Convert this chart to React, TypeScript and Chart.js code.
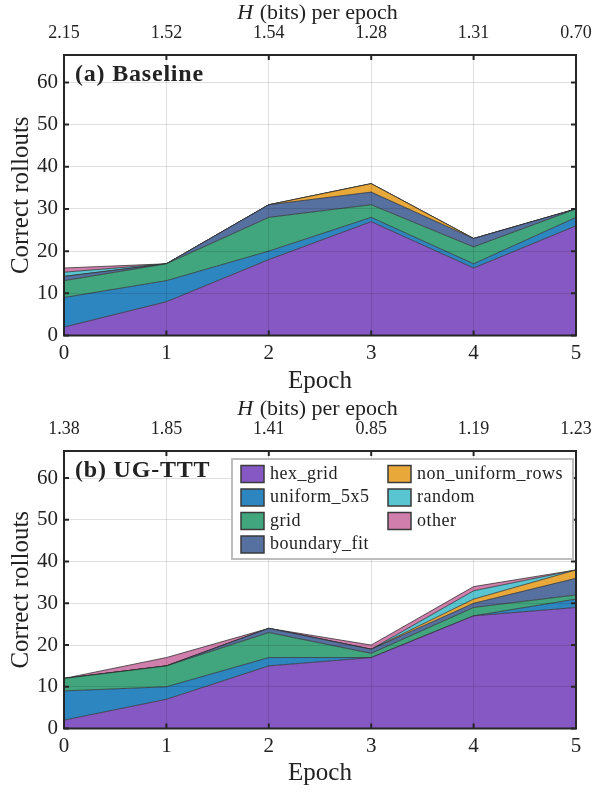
import React, { useEffect, useRef } from 'react';
import { Chart, registerables } from 'chart.js';

Chart.register(...registerables);

const EPOCHS = ['0', '1', '2', '3', '4', '5'];
const SERIES = ['hex_grid', 'uniform_5x5', 'grid', 'boundary_fit', 'non_uniform_rows', 'random', 'other'];
const COLORS = ['#8658c3', '#2e86c1', '#41a67e', '#5670a0', '#e9a83a', '#59c5d0', '#d07eab'];

// (a) Baseline
const BASE_HEX = [2, 8, 18, 27, 16, 26];
const BASE_UNI = [7, 5, 2, 1, 1, 2];
const BASE_GRID = [4, 4, 8, 3, 4, 2];
const BASE_BFIT = [1, 0, 3, 3, 2, 0];
const BASE_NUR = [0, 0, 0, 2, 0, 0];
const BASE_RAND = [1, 0, 0, 0, 0, 0];
const BASE_OTHER = [1, 0, 0, 0, 0, 0];
const BASE_H = ['2.15', '1.52', '1.54', '1.28', '1.31', '0.70'];

// (b) UG-TTT
const UG_HEX = [2, 7, 15, 17, 27, 29];
const UG_UNI = [7, 3, 2, 0, 0, 2];
const UG_GRID = [3, 5, 6, 1, 2, 1];
const UG_BFIT = [0, 0, 1, 1, 1, 4];
const UG_NUR = [0, 0, 0, 0, 1, 2];
const UG_RAND = [0, 0, 0, 0, 2, 0];
const UG_OTHER = [0, 2, 0, 1, 1, 0];
const UG_H = ['1.38', '1.85', '1.41', '0.85', '1.19', '1.23'];

const Y_MAX = 66.5;
const Y_STEP = 10;
const FONT = '"Liberation Serif", "Times New Roman", serif';
const TEXT = '#222';

const framePlugin = {
  id: 'frameDeco',
  afterDraw(chart: any, _args: any, opts: any) {
    const { ctx, chartArea: a, scales } = chart;
    ctx.save();
    // inward ticks
    ctx.strokeStyle = '#262626';
    ctx.lineWidth = 2;
    const tl = 5;
    ctx.beginPath();
    scales.y.ticks.forEach((t: any) => {
      const y = scales.y.getPixelForValue(t.value);
      ctx.moveTo(a.left, y); ctx.lineTo(a.left + tl, y);
      ctx.moveTo(a.right, y); ctx.lineTo(a.right - tl, y);
    });
    scales.x.ticks.forEach((_t: any, i: number) => {
      const x = scales.x.getPixelForTick(i);
      ctx.moveTo(x, a.bottom); ctx.lineTo(x, a.bottom - tl);
      ctx.moveTo(x, a.top); ctx.lineTo(x, a.top + tl);
    });
    ctx.stroke();
    ctx.strokeRect(a.left, a.top, a.right - a.left, a.bottom - a.top);

    // top axis title: "H (bits) per epoch" with italic H
    const cx = (a.left + a.right) / 2;
    ctx.fillStyle = TEXT;
    ctx.textBaseline = 'middle';
    ctx.textAlign = 'left';
    const f1 = `italic 22px ${FONT}`;
    const f2 = `22px ${FONT}`;
    const s1 = 'H';
    const s2 = ' (bits) per epoch';
    ctx.font = f1; const w1 = ctx.measureText(s1).width;
    ctx.font = f2; const w2 = ctx.measureText(s2).width;
    const x0 = cx - (w1 + w2) / 2 - 3;
    ctx.font = f1; ctx.fillText(s1, x0, 13);
    ctx.font = f2; ctx.fillText(s2, x0 + w1 + 1, 13);

    // panel label
    ctx.font = `bold 24px ${FONT}`;
    try { (ctx as any).letterSpacing = '0.8px'; } catch (e) { /* ignore */ }
    ctx.fillText(opts.label, a.left + 11, a.top + 20);
    try { (ctx as any).letterSpacing = '0px'; } catch (e) { /* ignore */ }

    // legend
    if (opts.legend) {
      const ds = chart.data.datasets;
      const bw = 341, bh = 100;
      const bx = a.right - 3 - bw;
      const by = a.top + 8;
      ctx.fillStyle = '#fff';
      ctx.fillRect(bx, by, bw, bh);
      ctx.strokeStyle = '#bdbdbd';
      ctx.lineWidth = 2;
      ctx.strokeRect(bx, by, bw, bh);
      ctx.font = `18px ${FONT}`;
      try { (ctx as any).letterSpacing = '0.5px'; } catch (e) { /* ignore */ }
      ds.forEach((d: any, i: number) => {
        const col = i < 4 ? 0 : 1;
        const row = i < 4 ? i : i - 4;
        const sx = bx + (col === 0 ? 9 : 156);
        const tx = bx + (col === 0 ? 38 : 185);
        const yc = by + 15 + row * 23.5;
        ctx.fillStyle = d.backgroundColor;
        ctx.fillRect(sx, yc - 8.5, 23, 17);
        ctx.strokeStyle = '#3a3a3a';
        ctx.lineWidth = 1.5;
        ctx.strokeRect(sx, yc - 8.5, 23, 17);
        ctx.fillStyle = TEXT;
        ctx.textBaseline = 'middle';
        ctx.fillText(d.label, tx, yc);
      });
      try { (ctx as any).letterSpacing = '0px'; } catch (e) { /* ignore */ }
    }
    ctx.restore();
  },
};

function buildConfig(series: number[][], hLabels: string[], label: string, legend: boolean, xHeight: number): any {
  const gridColor = 'rgba(0,0,0,0.12)';
  return {
    type: 'line',
    data: {
      labels: EPOCHS,
      datasets: series.map((data, i) => ({
        label: SERIES[i],
        data,
        backgroundColor: COLORS[i],
        borderColor: 'rgba(45,45,45,0.75)',
        borderWidth: 1,
        fill: i === 0 ? 'origin' : '-1',
        pointRadius: 0,
        tension: 0,
      })),
    },
    options: {
      animation: false,
      responsive: false,
      maintainAspectRatio: false,
      layout: { padding: { left: 0, right: 22, top: 0, bottom: 0 } },
      plugins: {
        legend: { display: false },
        tooltip: { enabled: false },
        frameDeco: { label, legend },
      },
      scales: {
        x: {
          type: 'category',
          position: 'bottom',
          offset: false,
          grid: { color: gridColor, z: 1, drawTicks: false, lineWidth: 1 },
          border: { display: false },
          ticks: { font: { family: FONT, size: 21 }, color: TEXT, padding: 5, maxRotation: 0 },
          title: { display: true, text: 'Epoch', font: { family: FONT, size: 25 }, color: TEXT, padding: { top: 0, bottom: 0 } },
          afterFit: (s: any) => { s.height = xHeight; },
        },
        xTop: {
          type: 'category',
          position: 'top',
          labels: hLabels,
          offset: false,
          grid: { display: false, drawTicks: false },
          border: { display: false },
          ticks: { font: { family: FONT, size: 18, lineHeight: 1.95 }, color: TEXT, padding: 4, maxRotation: 0 },
          afterFit: (s: any) => { s.height = 55; },
        },
        y: {
          stacked: true,
          min: 0,
          max: Y_MAX,
          grid: { color: gridColor, z: 1, drawTicks: false, lineWidth: 1 },
          border: { display: false },
          ticks: { stepSize: Y_STEP, includeBounds: false, font: { family: FONT, size: 21 }, color: TEXT, padding: 6 },
          title: { display: true, text: 'Correct rollouts', font: { family: FONT, size: 25 }, color: TEXT, padding: { top: 6, bottom: 0 } },
          afterFit: (s: any) => { s.width = 64; },
        },
      },
    },
    plugins: [framePlugin],
  };
}

function Panel(props: { series: number[][]; h: string[]; label: string; legend: boolean; height: number; xHeight: number }) {
  const ref = useRef<HTMLCanvasElement>(null);
  useEffect(() => {
    if (!ref.current) return;
    const chart = new Chart(ref.current, buildConfig(props.series, props.h, props.label, props.legend, props.xHeight));
    return () => chart.destroy();
  }, []);
  return <canvas ref={ref} width={598} height={props.height} style={{ display: 'block', width: 598, height: props.height }} />;
}

export default function App() {
  return (
    <div style={{ position: 'absolute', left: 0, top: 0, width: 598, height: 792, background: '#fff' }}>
      <Panel
        series={[BASE_HEX, BASE_UNI, BASE_GRID, BASE_BFIT, BASE_NUR, BASE_RAND, BASE_OTHER]}
        h={BASE_H}
        label="(a) Baseline"
        legend={false}
        height={396}
        xHeight={60.5}
      />
      <Panel
        series={[UG_HEX, UG_UNI, UG_GRID, UG_BFIT, UG_NUR, UG_RAND, UG_OTHER]}
        h={UG_H}
        label="(b) UG-TTT"
        legend={true}
        height={392}
        xHeight={59.5}
      />
    </div>
  );
}
